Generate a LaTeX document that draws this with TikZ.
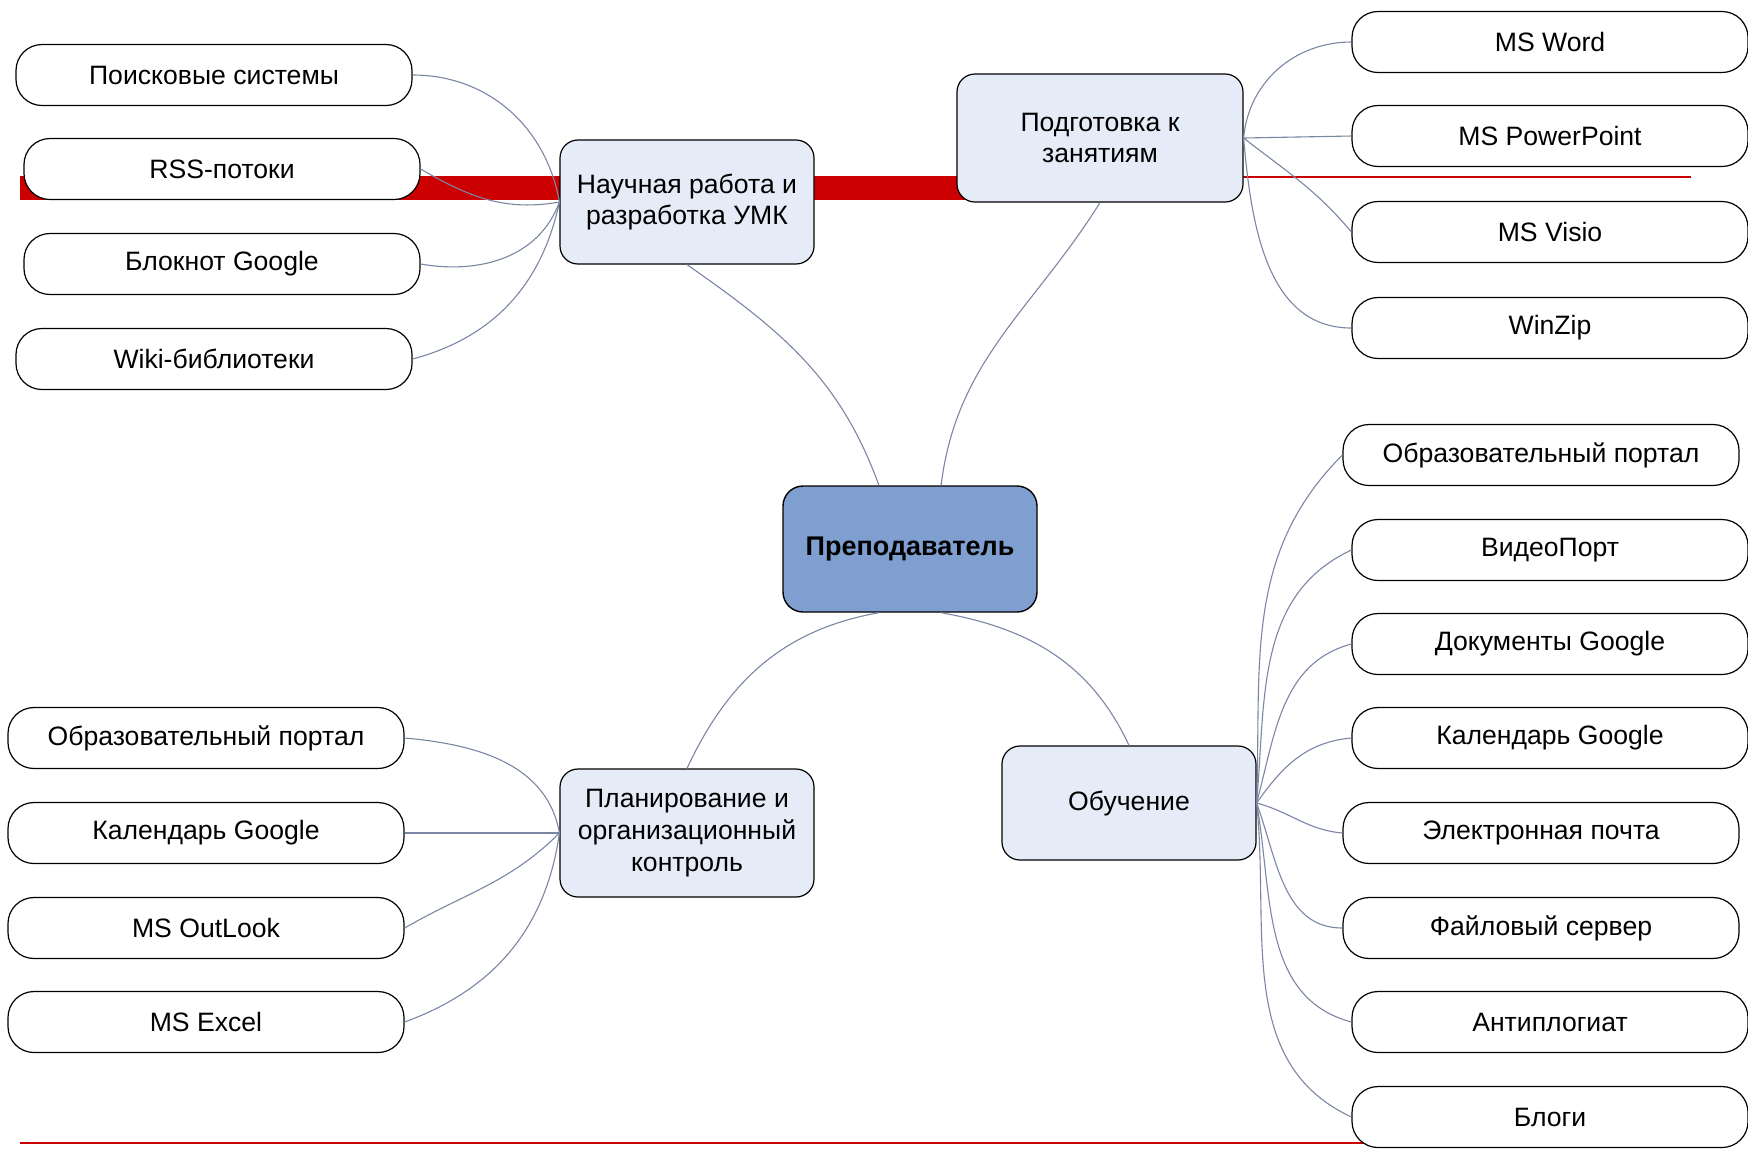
\documentclass[tikz,border=0pt]{standalone}
\usepackage{fontspec}
\setmainfont{Liberation Sans}
\definecolor{redbar}{HTML}{CC0000}
\definecolor{linkc}{HTML}{7A86A3}
\definecolor{branchfill}{HTML}{E6ECF7}
\definecolor{centerfill}{HTML}{7F9FD0}
\tikzset{
  leaf/.style={draw=black, line width=0.6pt, fill=white, rounded corners=13pt,
    minimum width=198pt, minimum height=30.5pt, inner sep=0pt,
    font=\fontsize{13.3}{15.5}\selectfont, align=center},
  branch/.style={draw=black, line width=0.6pt, fill=branchfill, rounded corners=9pt,
    minimum width=127pt, minimum height=62pt, inner sep=0pt,
    font=\fontsize{13.3}{15.8}\selectfont, align=center},
  hub/.style={draw=black, line width=0.7pt, fill=centerfill, rounded corners=10pt,
    minimum width=127pt, minimum height=63pt, inner sep=0pt,
    font=\fontsize{13.5}{16}\selectfont\bfseries, align=center},
  link/.style={draw=linkc, line width=0.55pt}
}
\begin{document}
\begin{tikzpicture}[x=0.5pt, y=-0.5pt]
\useasboundingbox (0,0) rectangle (1748,1148);
% red decorative bars
\fill[redbar] (20,176) rectangle (1000,200);
\draw[redbar, line width=1pt] (1000,177) -- (1691,177);
\draw[redbar, line width=1.4pt] (20,1143) -- (1400,1143);

% hub and branches
\node[hub] (c) at (910,549) {Преподаватель};
\node[branch] (nr) at (687,202) {Научная работа и\\разработка УМК};
\node[branch, minimum width=143pt, minimum height=64pt] (pz) at (1100,138) {Подготовка к\\занятиям};
\node[branch, minimum height=57pt] (ob) at (1129,803) {Обучение};
\node[branch, minimum height=64pt] (pl) at (687,833) {Планирование и\\организационный\\контроль};

% leaves: research
\node[leaf] (l1) at (214,75) {Поисковые системы};
\node[leaf] (l2) at (222,169) {RSS-потоки};
\node[leaf] (l3) at (222,264) {Блокнот Google};
\node[leaf] (l4) at (214,359) {Wiki-библиотеки};
% leaves: preparation
\node[leaf] (p1) at (1550,42) {MS Word};
\node[leaf] (p2) at (1550,136) {MS PowerPoint};
\node[leaf] (p3) at (1550,232) {MS Visio};
\node[leaf] (p4) at (1550,328) {WinZip};
% leaves: planning
\node[leaf] (q1) at (206,738) {Образовательный портал};
\node[leaf] (q2) at (206,833) {Календарь Google};
\node[leaf] (q3) at (206,928) {MS OutLook};
\node[leaf] (q4) at (206,1022) {MS Excel};
% leaves: teaching
\node[leaf] (o1) at (1541,455) {Образовательный портал};
\node[leaf] (o2) at (1550,550) {ВидеоПорт};
\node[leaf] (o3) at (1550,644) {Документы Google};
\node[leaf] (o4) at (1550,738) {Календарь Google};
\node[leaf] (o5) at (1541,833) {Электронная почта};
\node[leaf] (o6) at (1541,928) {Файловый сервер};
\node[leaf] (o7) at (1550,1022) {Антиплогиат};
\node[leaf] (o8) at (1550,1117) {Блоги};

% hub connectors
\draw[link] (nr.south) to[out=-35, in=110] (c.116);
\draw[link] (pz.south) to[out=238, in=83] (c.64);
\draw[link] (c.244) to[out=190, in=65] (pl.north);
\draw[link] (c.296) to[out=-10, in=115] (ob.north);

% research connectors
\draw[link] (l1.east) to[out=0, in=100] (nr.west);
\draw[link] (l2.east) to[out=-30, in=190] (nr.west);
\draw[link] (l3.east) to[out=-10, in=250] (nr.west);
\draw[link] (l4.east) to[out=15, in=258] (nr.west);

% preparation connectors
\draw[link] (pz.east) to[out=85, in=180] (p1.west);
\draw[link] (pz.east) -- (p2.west);
\draw[link] (pz.east) to[out=-38, in=130] (p3.west);
\draw[link] (pz.east) to[out=-85, in=180] (p4.west);

% planning connectors
\draw[link] (q1.east) to[out=-5, in=100] (pl.west);
\draw[link] (q2.east) -- (pl.west);
\draw[link] (q3.east) to[out=30, in=225] (pl.west);
\draw[link] (q4.east) to[out=20, in=262] (pl.west);

% teaching connectors
\draw[link] (ob.east) to[out=88, in=225] (o1.west);
\draw[link] (ob.east) to[out=85, in=205] (o2.west);
\draw[link] (ob.east) to[out=75, in=195] (o3.west);
\draw[link] (ob.east) to[out=55, in=185] (o4.west);
\draw[link] (ob.east) to[out=-15, in=175] (o5.west);
\draw[link] (ob.east) to[out=-70, in=180] (o6.west);
\draw[link] (ob.east) to[out=-80, in=165] (o7.west);
\draw[link] (ob.east) to[out=-84, in=155] (o8.west);
\end{tikzpicture}
\end{document}
